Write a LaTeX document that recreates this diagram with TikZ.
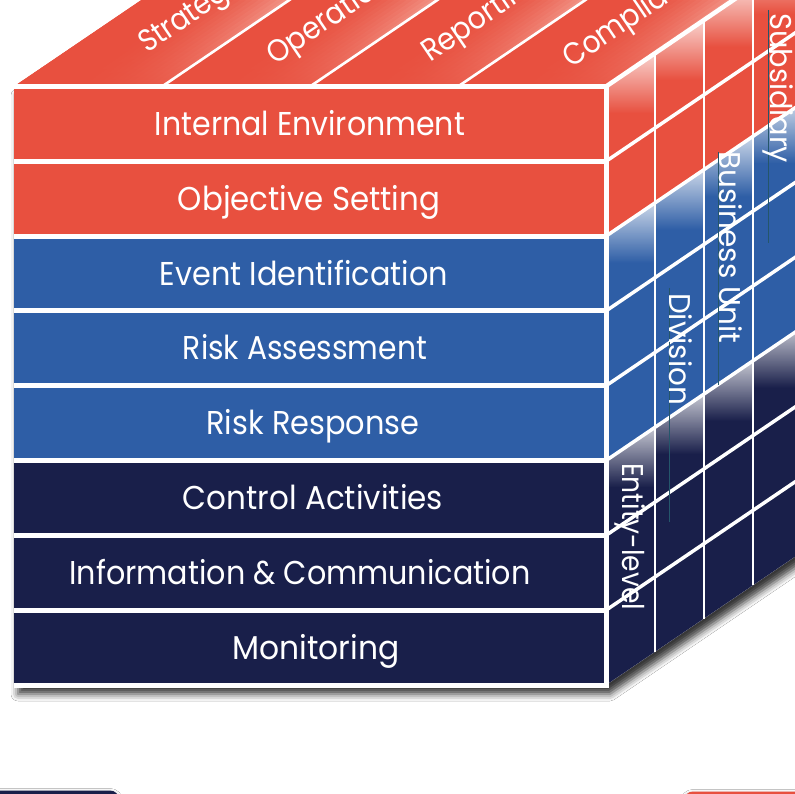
\documentclass[tikz,border=0pt]{standalone}
\usepackage{graphicx}
\usepackage{fontspec}
\setmainfont{Poppins}
\usetikzlibrary{fadings,shadows.blur}

\definecolor{cubered}{HTML}{E8503F}
\definecolor{cubeblue}{HTML}{2E5EA6}
\definecolor{cubenavy}{HTML}{191F4A}
\definecolor{glosspink}{HTML}{F3978A}
\definecolor{labelrule}{HTML}{24566B}

% soft highlights on the cube faces
\tikzfading[name=glossdown, top color=transparent!25, bottom color=transparent!100]
\tikzfading[name=reddenbottom, top color=transparent!100, middle color=transparent!80, bottom color=transparent!15]

% a label stretched to a given width (in pt), keeping its height
\newcommand\cubelabel[2]{\resizebox{#1pt}{\height}{#2}}

\begin{document}
\begin{tikzpicture}[x=1pt,y=-1pt,
  rowtext/.style={text=white, inner sep=0pt, anchor=base, font=\fontsize{33}{33}\selectfont},
  toptext/.style={text=white, inner sep=0pt, anchor=base west, rotate=34.18, font=\fontsize{31}{31}\selectfont},
  sidetext/.style={text=white, inner sep=0pt, anchor=base west, rotate=-90, font=\fontsize{30}{30}\selectfont},
  frontline/.style={white, line width=5pt},
  diagline/.style={white, line width=3.5pt},
  topline/.style={white, line width=2.6pt},
  colline/.style={white, line width=2pt},
  rulebar/.style={draw=labelrule, line width=1pt},
]
\useasboundingbox (0,0) rectangle (795,794);
\clip (0,0) rectangle (795,794);
\fill[white] (0,0) rectangle (795,794);

% cube geometry: front face, row height, depth step
\def\xL{14}\def\xR{606}\def\yT{86.5}\def\yB{685}
\def\rh{74.8125}\def\dx{48.9}\def\dy{-33.2}
\def\sw{148}

% drop shadow of the whole cube
\fill[white, blur shadow={shadow xshift=4pt, shadow yshift=-9pt, shadow blur radius=7pt, shadow opacity=78}]
  (\xL,\yT) -- (\xL+4*\dx,\yT+4*\dy) -- (\xR+4*\dx,\yT+4*\dy) -- (\xR+4*\dx,\yB+4*\dy)
  -- (\xR,\yB) -- (\xL,\yB) -- cycle;

% front face rows
\foreach \k/\col in {0/cubered,1/cubered,2/cubeblue,3/cubeblue,4/cubeblue,5/cubenavy,6/cubenavy,7/cubenavy}
  \fill[\col] (\xL,\yT+\k*\rh) rectangle (\xR,\yT+\k*\rh+\rh);

% top face with a sheen towards the right side of each strip
\fill[cubered] (\xL,\yT) -- (\xR,\yT) -- (\xR+4*\dx,\yT+4*\dy) -- (\xL+4*\dx,\yT+4*\dy) -- cycle;
\foreach \s in {0,...,3}{
  \foreach \j in {0,...,23}{
    \pgfmathsetmacro\gt{(\j+0.5)/24}
    \pgfmathsetmacro\gu{max(0,(\gt-0.3)/0.7)}
    \pgfmathsetmacro\pp{100*\gu*\gu}
    \pgfmathsetmacro\xa{\xL+\s*\sw+\j*\sw/24}
    \pgfmathsetmacro\xb{\xa+1.3*\sw/24}
    \fill[glosspink!\pp!cubered] (\xa,\yT) -- (\xb,\yT) -- (\xb+4*\dx,\yT+4*\dy) -- (\xa+4*\dx,\yT+4*\dy) -- cycle;
  }
}
\begin{scope}
  \clip (\xL,\yT) -- (\xR,\yT) -- (\xR+4*\dx,\yT+4*\dy) -- (\xL+4*\dx,\yT+4*\dy) -- cycle;
  \fill[cubered, path fading=reddenbottom] (0,0) rectangle (800,\yT);
\end{scope}

% right face colour bands
\def\xF{606}
\foreach \a/\b/\col in {0/2/cubered,2/5/cubeblue,5/8/cubenavy}
  \fill[\col] (\xF,\yT+\a*\rh) -- (\xF+4*\dx,\yT+\a*\rh+4*\dy)
    -- (\xF+4*\dx,\yT+\b*\rh+4*\dy) -- (\xF,\yT+\b*\rh) -- cycle;

% gloss at the top of each band's first row of cells
\foreach \r in {0,2,5}{
  \foreach \c in {0,...,3}{
    \begin{scope}
      \clip (\xF+\c*\dx,\yT+\r*\rh+\c*\dy) -- (\xF+\c*\dx+\dx,\yT+\r*\rh+\c*\dy+\dy)
        -- (\xF+\c*\dx+\dx,\yT+\r*\rh+\rh+\c*\dy+\dy) -- (\xF+\c*\dx,\yT+\r*\rh+\rh+\c*\dy) -- cycle;
      \fill[white, path fading=glossdown] (\xF+\c*\dx-1,\yT+\r*\rh+\c*\dy+\dy)
        rectangle (\xF+\c*\dx+\dx+1,\yT+\r*\rh+\c*\dy+\dy+60);
    \end{scope}
  }
}

% white grid lines
\foreach \c in {1,...,4}
  \draw[colline] (\xF+\c*\dx,\yT+\c*\dy) -- (\xF+\c*\dx,\yB+\c*\dy);
\foreach \k in {1,...,7}
  \draw[diagline] (\xF,\yT+\k*\rh) -- (\xF+4*\dx,\yT+\k*\rh+4*\dy);
\foreach \s in {1,2,3}
  \draw[topline] (\xL+\s*\sw,\yT) -- (\xL+\s*\sw+4*\dx,\yT+4*\dy);
\draw[white, line width=4.5pt] (\xF,\yT) -- (\xF+4*\dx,\yT+4*\dy);
\foreach \k in {1,...,7}
  \draw[frontline] (\xL,\yT+\k*\rh) -- (\xR,\yT+\k*\rh);
\draw[frontline] (\xL,\yT) -- (\xR,\yT) -- (\xR,\yB) -- (\xL,\yB);

% thin rules beside the unit labels
\draw[rulebar] (768,10) -- (768,243);
\draw[rulebar] (718,152) -- (718,385);
\draw[rulebar] (669,288) -- (669,522);

% component labels on the front face
\node[rowtext] (ie)  at (310,\yT+0.5*\rh+11.6) {\cubelabel{310}{Internal Environment}};
\node[rowtext] (os)  at (309,\yT+1.5*\rh+11.6) {\cubelabel{262}{Objective Setting}};
\node[rowtext] (ei)  at (304,\yT+2.5*\rh+11.6) {\cubelabel{288}{Event Identification}};
\node[rowtext] (ra)  at (305,\yT+3.5*\rh+11.6) {\cubelabel{244}{Risk Assessment}};
\node[rowtext] (rr)  at (313,\yT+4.5*\rh+11.6) {\cubelabel{213}{Risk Response}};
\node[rowtext] (ca)  at (313,\yT+5.5*\rh+11.6) {\cubelabel{260}{Control Activities}};
\node[rowtext] (ic)  at (300,\yT+6.5*\rh+11.6) {\cubelabel{461}{Information \& Communication}};
\node[rowtext] (mon) at (316,\yT+7.5*\rh+11.6) {\cubelabel{167}{Monitoring}};

% objective labels on the top face
\node[toptext] (strat) at (147,54) {\cubelabel{124}{Strategic}};
\node[toptext] (oper)  at (275,66) {\cubelabel{156}{Operations}};
\node[toptext] (rep)   at (430,63) {\cubelabel{137}{Reporting}};
\node[toptext] (comp)  at (571,69) {\cubelabel{172}{Compliance}};

% unit labels on the right face
\node[sidetext] (sub) at (770,13)  {\cubelabel{150}{Subsidiary}};
\node[sidetext] (bu)  at (719,151) {\cubelabel{192}{Business Unit}};
\node[sidetext] (div) at (669,293) {\cubelabel{112}{Division}};
\node[sidetext] (ent) at (622,463) {\cubelabel{147}{Entity-level}};

% neighbouring panels at the bottom edge
\fill[cubenavy, rounded corners=9pt, blur shadow={shadow xshift=0pt, shadow yshift=-2pt, shadow blur radius=4pt, shadow opacity=35}]
  (-30,790.5) rectangle (119,850);
\fill[cubered, rounded corners=9pt, blur shadow={shadow xshift=0pt, shadow yshift=-2pt, shadow blur radius=4pt, shadow opacity=35}]
  (684,791.5) rectangle (850,850);
\end{tikzpicture}
\end{document}
